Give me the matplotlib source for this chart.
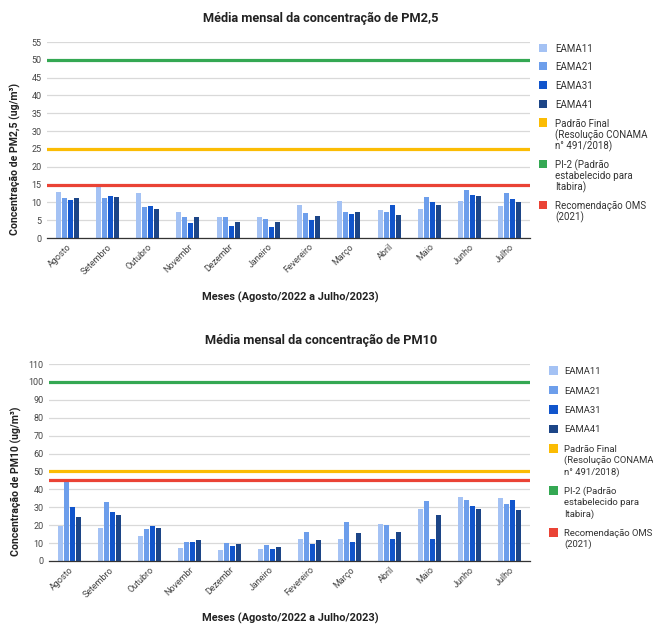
import matplotlib
matplotlib.use("Agg")
import matplotlib.pyplot as plt
from matplotlib.patches import Rectangle
import numpy as np

plt.rcParams['font.family'] = ['Roboto', 'DejaVu Sans']

months = ["Agosto", "Setembro", "Outubro", "Novembr", "Dezembr", "Janeiro",
          "Fevereiro", "Março", "Abril", "Maio", "Junho", "Julho"]
stations = ["EAMA11", "EAMA21", "EAMA31", "EAMA41"]

pm25_eama11 = [12.9, 14.9, 12.6, 7.3, 5.8, 5.8, 9.4, 10.5, 7.9, 8.2, 10.4, 8.9]
pm25_eama21 = [11.2, 11.2, 8.6, 5.8, 5.8, 5.4, 7.0, 7.3, 7.4, 11.5, 13.5, 12.6]
pm25_eama31 = [10.6, 11.7, 8.9, 4.3, 3.5, 3.0, 5.1, 6.7, 9.4, 10.0, 12.1, 11.0]
pm25_eama41 = [11.2, 11.4, 8.0, 5.8, 4.5, 4.4, 6.1, 7.4, 6.5, 9.4, 11.8, 10.2]

pm10_eama11 = [19.6, 18.6, 13.8, 7.3, 6.2, 6.5, 12.1, 12.5, 20.5, 28.9, 36.0, 35.4]
pm10_eama21 = [44.0, 32.8, 17.7, 10.4, 9.9, 9.1, 16.4, 22.0, 19.9, 33.4, 34.1, 32.1]
pm10_eama31 = [30.4, 27.2, 19.6, 10.8, 8.2, 6.9, 9.3, 10.4, 12.5, 12.5, 30.8, 34.1]
pm10_eama41 = [24.8, 25.5, 18.6, 11.6, 9.3, 7.6, 11.6, 15.5, 16.0, 25.5, 29.3, 28.2]

pm25_limits = {"final": 25, "pi2": 50, "oms": 15}
pm10_limits = {"final": 50, "pi2": 100, "oms": 45}

bar_colors = ["#a4c2f4", "#6d9eeb", "#1155cc", "#1c4587"]
c_final, c_pi2, c_oms = "#fbbc04", "#34a853", "#ea4335"
legend_labels = stations + ["Padrão Final\n(Resolução CONAMA\nn° 491/2018)",
                            "PI-2 (Padrão\nestabelecido para\nItabira)",
                            "Recomendação OMS\n(2021)"]

W, H = 653, 625
fig = plt.figure(figsize=(W / 100, H / 100), dpi=100)


def fx(px):
    return px / W


def fy(py):
    return 1 - py / H


def draw_legend(x0, y0, step, line_step, size, gap, fontsize):
    colors = bar_colors + [c_final, c_pi2, c_oms]
    y = y0
    for lab, col in zip(legend_labels, colors):
        fig.add_artist(Rectangle((fx(x0), fy(y + size / 2)), size / W, size / H,
                                 transform=fig.transFigure, color=col, lw=0))
        lines = lab.split("\n")
        for k, ln in enumerate(lines):
            fig.text(fx(x0 + size + gap), fy(y + k * line_step), ln, ha='left',
                     va='center_baseline', fontsize=fontsize, color='#333333')
        y += step + line_step * (len(lines) - 1)


def draw(ax_rect, series, limits, ymax, ystep, title, ylabel, title_y, xlabel_y,
         ylab_xy):
    ax = fig.add_axes(ax_rect)
    x = np.arange(len(months))
    slot = 0.15
    bw = 0.125
    for i, (vals, col) in enumerate(zip(series, bar_colors)):
        ax.bar(x + (i - 1.5) * slot, vals, width=bw, color=col, zorder=3)
    for key, col in (("pi2", c_pi2), ("final", c_final), ("oms", c_oms)):
        ax.axhline(limits[key], color=col, lw=2.3, zorder=4)
    ax.set_xlim(-0.5, len(months) - 0.5)
    ax.set_ylim(0, ymax)
    ax.set_yticks(np.arange(0, ymax + 1, ystep))
    ax.grid(axis='y', color='#d9d9d9', lw=0.9, zorder=0)
    for s in ("top", "right", "left"):
        ax.spines[s].set_visible(False)
    ax.spines["bottom"].set_color("#333333")
    ax.spines["bottom"].set_linewidth(0.9)
    ax.spines["bottom"].set_zorder(5)
    ax.tick_params(axis='y', length=0, labelsize=6.5, labelcolor='#444444', pad=4)
    ax.tick_params(axis='x', length=0, labelsize=6.5, labelcolor='#444444', pad=3)
    ax.set_xticks(x)
    ax.set_xticklabels(months, rotation=45, ha='right', rotation_mode='anchor')
    ax.set_ylabel(ylabel, fontsize=7.6, fontweight='bold', color='#222222')
    ax.yaxis.set_label_coords(*ylab_xy)
    fig.text(fx(321), fy(title_y), title, ha='center', va='center',
             fontsize=9.2, fontweight='bold', color='#222222')
    fig.text(fx(290), fy(xlabel_y), "Meses (Agosto/2022 a Julho/2023)", ha='center',
             va='center', fontsize=7.9, fontweight='bold', color='#222222')
    return ax


def rect(left, right, top, bottom):
    return [left / W, 1 - bottom / H, (right - left) / W, (bottom - top) / H]


draw(rect(47, 530, 42, 238), [pm25_eama11, pm25_eama21, pm25_eama31, pm25_eama41],
     pm25_limits, 55, 5, "Média mensal da concentração de PM2,5",
     "Concentração de PM2,5 (ug/m³)", 18, 297, (-0.054, 0.403))
draw(rect(49, 530, 364, 561), [pm10_eama11, pm10_eama21, pm10_eama31, pm10_eama41],
     pm10_limits, 110, 10, "Média mensal da concentração de PM10",
     "Concentração de PM10 (ug/m³)", 340, 618, (-0.057, 0.406))

draw_legend(539, 47.7, 18.7, 11.2, 8, 8, 7)
draw_legend(549, 370.7, 19.4, 11.3, 8.5, 6.5, 6.8)

fig.savefig("out.png", dpi=100)
